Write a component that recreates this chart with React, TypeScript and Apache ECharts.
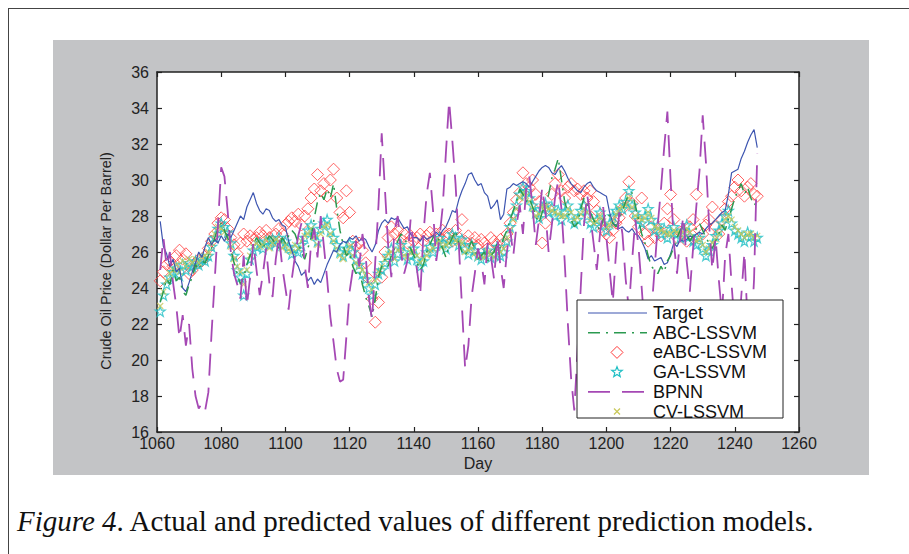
import React, { useEffect, useRef } from "react";
import * as echarts from "echarts";

const startDay = 1061;
const xTicks = { min: 1060, max: 1260, step: 20 };
const yTicks = { min: 16, max: 36, step: 2 };
const seriesNames = ["Target", "ABC-LSSVM", "eABC-LSSVM", "GA-LSSVM", "BPNN", "CV-LSSVM"];

const target = [
  27.7, 26.3, 25.9, 25.2, 25.6, 24.9, 25.1, 24.0, 23.8, 24.3,
  24.9, 25.4, 26.0, 25.7, 26.3, 26.8, 26.4, 26.7, 26.5, 26.9,
  26.6, 27.0, 26.8, 27.2, 27.6, 28.0, 27.8, 28.5, 28.9, 29.3,
  28.7, 28.3, 28.1, 28.4, 28.3, 27.9, 27.7, 27.8, 27.5, 27.4,
  26.6, 26.1, 25.5, 25.2, 24.7, 24.9, 24.4, 24.6, 24.2, 24.5,
  24.3, 24.8, 25.3, 25.7, 26.1, 26.0, 26.4, 26.6, 26.5, 26.8,
  26.7, 26.9, 26.6, 26.8, 26.7, 26.3, 26.0, 26.4, 27.2, 27.6,
  27.8, 27.6, 27.9, 27.8, 27.9, 27.6, 27.3, 27.4, 27.0, 26.8,
  26.8, 26.6, 26.9, 26.7, 26.8, 26.9, 27.1, 26.9, 27.2, 27.4,
  27.8, 28.3, 28.2, 28.9, 29.4, 29.8, 30.3, 30.4, 30.0, 29.7,
  29.8, 29.3, 29.1, 28.4, 28.6, 28.9, 27.8, 28.1, 29.5, 29.6,
  29.8, 29.7, 29.8, 29.9, 29.8, 29.6, 29.9, 30.2, 30.5, 30.7,
  30.8, 30.7, 30.4, 30.3, 30.6, 30.8, 30.5, 30.1, 29.8, 29.6,
  29.4, 29.3, 29.6, 29.8, 29.9, 29.6, 29.4, 29.3, 29.2, 29.1,
  28.2, 27.6, 27.5, 27.3, 27.4, 27.2, 27.1, 27.3, 27.0, 26.9,
  26.6, 26.2, 25.6, 25.8, 25.5, 25.6, 25.7, 25.3, 25.4, 25.9,
  26.5, 26.3, 26.7, 26.6, 26.7, 26.9, 26.8, 27.0, 27.1, 27.0,
  27.3, 27.5, 27.6, 27.8, 28.0, 28.2, 28.3, 29.2, 30.4, 30.5,
  30.6, 31.2, 31.6, 32.1, 32.5, 32.8, 31.8,
];

const abcLssvm = [
  23.2, 23.8, 24.5, 24.2, 25.0, 24.4, 24.6, 23.8, 23.6, 24.2,
  24.6, 25.3, 25.0, 25.5, 25.4, 25.8, 26.2, 26.8, 27.3, 27.6,
  27.2, 26.8, 26.2, 25.4, 24.8, 24.2, 24.6, 25.3, 25.8, 26.4,
  26.8, 26.5, 26.2, 26.6, 26.9, 26.7, 26.4, 26.2, 26.8, 26.5,
  26.9, 27.2, 27.0, 26.5, 26.0, 25.6, 26.2, 26.8, 27.9, 28.8,
  29.3, 28.9, 29.5, 29.0, 29.8, 28.4, 27.2, 26.4, 25.8, 26.0,
  25.2, 24.8, 25.0, 24.2, 23.5, 23.0, 22.4, 23.4, 24.6, 25.2,
  25.6, 25.2, 25.8, 26.2, 26.6, 27.0, 26.8, 26.4, 26.2, 25.8,
  25.4, 25.0, 25.3, 26.0, 26.4, 26.8, 27.0, 26.6, 26.2, 25.7,
  26.4, 26.8, 27.2, 26.5, 26.0, 25.8, 26.2, 26.6, 26.2, 25.6,
  25.8, 26.0, 25.5, 25.8, 26.0, 26.5, 26.2, 26.8, 27.2, 27.8,
  28.3, 28.8, 29.5, 29.2, 28.8, 29.0, 28.5, 28.0, 27.6, 28.2,
  28.6, 29.2, 30.1, 30.6, 31.2, 30.0, 28.8, 28.2, 27.8, 27.4,
  27.6, 28.4, 29.0, 28.6, 28.2, 27.8, 27.5, 27.2, 27.8, 28.2,
  28.0, 27.6, 27.4, 27.8, 28.3, 28.8, 29.2, 29.3, 28.6, 27.8,
  27.0, 26.5, 25.8, 25.2, 25.0, 24.8, 25.2, 24.9, 25.5, 25.8,
  26.3, 26.8, 27.2, 27.5, 27.0, 26.6, 26.9, 27.3, 27.6, 27.2,
  26.8, 26.5, 26.2, 26.6, 27.0, 27.5, 27.2, 27.8, 28.4, 29.0,
  29.4, 29.8, 29.2, 29.6, 29.0, 28.6, 28.8,
];

const eabcLssvm = [
  24.4, 24.9, 25.3, 25.5, 25.2, 25.8, 26.1, 25.6, 25.9, 24.8,
  25.0, 25.4, 25.6, 25.5, 25.8, 26.2, 26.6, 27.0, 27.6, 27.9,
  27.8, 27.3, 26.8, 26.4, 25.9, 26.5, 27.0, 26.6, 26.9, 26.7,
  26.8, 27.1, 26.9, 27.2, 26.8, 26.6, 27.0, 27.3, 27.0, 27.5,
  27.7, 27.9, 27.7, 28.1, 27.5, 28.0, 28.4, 29.0, 29.5, 30.3,
  29.4, 29.8, 29.1, 30.0, 30.6, 29.0, 28.2, 27.9, 29.4, 28.2,
  26.6, 26.3, 26.5, 26.1, 25.4, 24.5, 23.4, 22.1, 23.2, 24.6,
  26.0, 26.8, 27.4, 27.0, 27.2, 26.7, 27.0, 26.5, 26.9, 26.6,
  26.8, 27.0, 26.6, 26.9, 27.1, 26.7, 27.0, 26.8, 27.2, 26.9,
  27.0, 26.6, 27.2, 26.8, 27.8, 26.6, 26.9, 26.5, 26.8, 26.4,
  26.7, 26.5, 26.2, 26.8, 26.6, 26.4, 26.7, 26.5, 27.0, 27.6,
  28.2, 28.9, 29.3, 30.4, 29.8, 29.6, 30.0, 29.2, 28.8, 26.5,
  27.6, 28.4, 29.2, 29.8, 30.3, 29.4, 29.0, 29.6, 29.8, 29.4,
  29.5, 29.2, 29.4, 29.0, 29.4, 28.8, 28.3, 27.6, 27.2, 27.0,
  26.8, 27.2, 27.6, 27.9, 28.4, 29.0, 29.9, 28.7, 28.0, 27.4,
  29.0, 27.0, 26.6, 27.4, 26.8, 27.2, 26.9, 27.6, 28.4, 29.2,
  27.8, 26.8, 27.1, 27.0, 26.6, 27.4, 27.8, 29.2, 27.2, 27.0,
  27.5, 27.8, 28.5, 27.4, 27.0, 27.8, 28.4, 28.8, 29.1, 29.6,
  30.0, 29.4, 29.1, 29.6, 29.8, 29.2, 29.1,
];

const gaLssvm = [
  22.7, 23.6, 24.2, 24.6, 24.9, 25.1, 24.7, 25.3, 25.0, 25.4,
  25.2, 25.5, 25.3, 25.6, 25.5, 25.8, 26.3, 26.8, 27.3, 27.6,
  27.4, 27.1, 26.5, 25.8, 25.0, 24.6, 23.6, 24.8, 25.6, 26.1,
  26.3, 26.5, 26.2, 26.6, 26.4, 26.7, 26.5, 26.8, 26.4, 26.6,
  26.3, 25.9, 26.2, 26.0, 26.4, 26.8, 27.2, 27.5, 27.0, 26.6,
  27.3, 27.6, 27.8, 27.2, 26.8, 26.4, 26.0, 25.8, 26.2, 26.5,
  26.0, 25.6, 25.3, 24.8, 24.5, 24.0, 23.6, 24.2, 24.8, 25.0,
  25.4, 25.8, 26.2, 25.5, 25.9, 26.4, 26.0, 25.6, 25.8, 26.2,
  25.6, 25.2, 25.5, 26.0, 26.3, 26.0, 26.4, 26.8, 26.5, 26.2,
  26.6, 27.0, 26.8, 26.4, 26.7, 26.2, 25.9, 26.4, 26.1, 25.8,
  25.6, 25.9, 26.1, 25.7, 25.9, 26.3, 25.8, 26.0, 26.6, 27.4,
  28.0, 28.6, 29.2, 29.6, 29.4, 29.0, 28.6, 28.2, 27.9, 28.4,
  28.7, 28.2, 28.5, 28.0, 28.3, 27.8, 28.2, 28.6, 28.0, 27.6,
  27.8, 28.3, 28.6, 28.0, 27.6, 27.4, 27.8, 28.2, 27.5, 27.2,
  27.6, 28.0, 28.3, 28.6, 28.4, 28.8, 29.4, 28.6, 28.2, 27.8,
  27.6, 28.0, 28.4, 27.8, 27.2, 27.5, 27.0, 27.3, 26.8, 27.1,
  27.4, 27.0, 26.8, 27.2, 27.5, 26.9, 26.6, 26.4, 26.8, 26.2,
  25.8, 26.1, 26.4, 26.9, 27.2, 27.6, 28.0, 28.3, 27.6, 27.2,
  27.0, 26.8, 26.6, 27.1, 26.9, 26.6, 26.8,
];

const bpnn = [
  25.0, 26.8, 25.2, 26.0, 24.3, 23.0, 21.2, 22.5, 20.8, 22.0,
  19.5, 18.0, 17.3, 17.6, 17.2, 18.2, 21.5, 24.5, 27.5, 30.7,
  30.2, 28.3, 26.0, 24.8, 24.2, 23.4, 25.8, 23.0, 24.6, 26.5,
  25.0, 23.6, 24.8, 26.2, 24.3, 23.5, 25.6, 26.9, 25.2, 24.0,
  22.8, 24.5, 25.8, 26.9, 27.6, 25.3, 24.0, 26.5, 27.3, 25.7,
  28.0, 26.3, 24.5, 22.4, 21.0, 19.5, 18.8, 18.9, 21.3, 23.8,
  25.0, 26.6, 25.2, 27.0, 25.8, 23.5, 22.2, 25.5, 28.6, 32.6,
  29.5, 26.4, 24.6, 27.2, 28.0, 26.0, 24.8, 25.5, 27.8, 26.2,
  25.0, 23.6, 27.0, 29.2, 30.4, 28.3, 25.5, 26.8, 28.5, 31.5,
  34.4, 32.2, 29.8, 26.5, 23.0, 19.5, 20.8, 23.5, 24.8, 26.2,
  25.5, 24.2, 26.5, 25.8, 24.5, 26.8, 25.2, 24.0, 26.0, 27.3,
  25.8, 27.5, 28.6, 27.0, 29.5, 30.2, 28.5, 26.4, 27.8, 29.6,
  28.2, 26.0, 27.5, 29.0, 30.0, 28.4, 25.5, 22.0, 19.0, 17.2,
  20.5, 24.0, 27.5, 29.2, 28.0, 26.5, 25.0, 27.0, 28.5, 26.8,
  25.0, 23.2, 26.0, 28.2, 27.0, 24.5, 22.8, 25.5, 27.8, 26.3,
  24.0, 21.5, 20.2, 22.6, 25.0, 27.5, 29.5, 31.8, 33.8, 30.0,
  26.5, 24.8, 26.8, 28.0, 25.5, 23.8, 26.2, 28.5, 30.5, 33.6,
  31.0, 27.5, 25.0, 26.8, 24.5, 22.5, 25.8, 27.0, 24.2, 21.8,
  20.5, 23.5, 26.0, 22.0, 21.0, 24.5, 31.5,
];

const cvLssvm = [
  23.0, 23.8, 24.4, 24.8, 25.0, 25.3, 24.9, 25.5, 25.2, 25.6,
  25.4, 25.6, 25.4, 25.7, 25.8, 26.0, 26.5, 27.0, 27.4, 27.3,
  27.1, 26.8, 26.3, 25.6, 25.2, 24.9, 24.2, 25.0, 25.8, 26.3,
  26.5, 26.3, 26.4, 26.7, 26.2, 26.5, 26.7, 26.6, 26.2, 26.4,
  26.1, 26.0, 26.4, 26.2, 26.6, 26.9, 27.0, 27.3, 26.8, 26.4,
  27.0, 27.4, 27.5, 27.0, 26.6, 26.2, 25.8, 25.6, 26.0, 26.3,
  25.8, 25.4, 25.2, 25.0, 24.7, 24.3, 23.9, 24.4, 24.9, 25.2,
  25.6, 25.9, 26.0, 25.6, 26.1, 26.2, 25.8, 25.7, 26.0, 26.0,
  25.8, 25.4, 25.6, 25.8, 26.1, 26.2, 26.5, 26.6, 26.3, 26.4,
  26.5, 26.8, 26.6, 26.5, 26.5, 26.0, 26.1, 26.2, 25.9, 25.7,
  25.8, 25.7, 26.0, 25.9, 25.7, 26.1, 26.0, 26.2, 26.8, 27.2,
  27.8, 28.4, 29.0, 29.3, 29.1, 28.8, 28.4, 28.0, 28.1, 28.5,
  28.5, 28.4, 28.3, 28.2, 28.1, 28.0, 28.0, 28.4, 28.2, 27.8,
  27.9, 28.1, 28.4, 28.2, 27.8, 27.6, 27.7, 28.0, 27.7, 27.4,
  27.5, 27.8, 28.1, 28.4, 28.5, 28.6, 29.0, 28.5, 28.0, 27.9,
  27.8, 27.9, 28.2, 27.9, 27.4, 27.3, 27.2, 27.1, 27.0, 27.0,
  27.2, 27.1, 27.0, 27.1, 27.3, 27.1, 26.8, 26.6, 26.7, 26.4,
  26.0, 26.2, 26.5, 26.7, 27.0, 27.4, 27.8, 28.0, 27.8, 27.4,
  27.2, 27.0, 26.8, 27.0, 27.0, 26.8, 26.9,
];

const yAxisTitle = "Crude Oil Price (Dollar Per Barrel)";
const xAxisTitle = "Day";
const captionItalic = "Figure 4";
const captionRest = ". Actual and predicted values of different prediction models.";

const C_TARGET = "#3d55b0";
const C_ABC = "#2b9a50";
const C_EABC = "#ff3a3a";
const C_GA = "#1fbfc4";
const C_BPNN = "#a548b4";
const C_CV = "#c9c85a";
const DASH_ABC = [12, 6, 2, 6];
const DASH_BPNN = [22, 12];

const STAR =
  "path://M50,0L61.2,34.5L97.6,34.5L68.2,55.9L79.4,90.5L50,69.1L20.6,90.5L31.8,55.9L2.4,34.5L38.8,34.5Z";
const CROSS = "path://M0,0L10,10M10,0L0,10";

const SANS = "'Liberation Sans', Arial, Helvetica, sans-serif";
const SERIF = "'Liberation Serif', 'Times New Roman', serif";

function pts(vals: number[]) {
  return vals.map((v, i) => [startDay + i, v]);
}

function starPoints(cx: number, cy: number, R: number, r: number) {
  const p: number[][] = [];
  for (let k = 0; k < 10; k++) {
    const a = -Math.PI / 2 + (k * Math.PI) / 5;
    const rad = k % 2 === 0 ? R : r;
    p.push([cx + rad * Math.cos(a), cy + rad * Math.sin(a)]);
  }
  return p;
}

function buildLegend() {
  const bx = 577, by = 300, bw = 206, bh = 118;
  const x0 = 588, x1 = 647, sx = 617, tx = 653;
  const rowY = (i: number) => 313 + i * 19.7;
  const els: any[] = [
    { type: "rect", z: 100, shape: { x: bx, y: by, width: bw, height: bh }, style: { fill: "#fff", stroke: "#222", lineWidth: 1 } },
  ];
  els.push({ type: "line", z: 101, shape: { x1: x0, y1: rowY(0), x2: x1, y2: rowY(0) }, style: { stroke: C_TARGET, lineWidth: 1.2 } });
  els.push({ type: "line", z: 101, shape: { x1: x0, y1: rowY(1), x2: x1, y2: rowY(1) }, style: { stroke: C_ABC, lineWidth: 1.5, lineDash: DASH_ABC } });
  const y2 = rowY(2);
  els.push({ type: "polygon", z: 101, shape: { points: [[sx, y2 - 6], [sx + 6, y2], [sx, y2 + 6], [sx - 6, y2]] }, style: { fill: "none", stroke: C_EABC, lineWidth: 1 } });
  els.push({ type: "polygon", z: 101, shape: { points: starPoints(sx, rowY(3), 5.5, 2.3) }, style: { fill: "none", stroke: C_GA, lineWidth: 1.2 } });
  els.push({ type: "line", z: 101, shape: { x1: x0, y1: rowY(4), x2: x1, y2: rowY(4) }, style: { stroke: C_BPNN, lineWidth: 1.8, lineDash: DASH_BPNN } });
  const y5 = rowY(5);
  els.push({ type: "line", z: 101, shape: { x1: sx - 3, y1: y5 - 3, x2: sx + 3, y2: y5 + 3 }, style: { stroke: C_CV, lineWidth: 1.2 } });
  els.push({ type: "line", z: 101, shape: { x1: sx + 3, y1: y5 - 3, x2: sx - 3, y2: y5 + 3 }, style: { stroke: C_CV, lineWidth: 1.2 } });
  seriesNames.forEach((n, i) => {
    els.push({
      type: "text",
      z: 102,
      x: tx,
      y: rowY(i),
      style: { text: n, fill: "#111", font: `18px ${SANS}`, verticalAlign: "middle", align: "left" },
    });
  });
  return els;
}

export default function App() {
  const ref = useRef<HTMLDivElement>(null);

  useEffect(() => {
    if (!ref.current) return;
    const chart = echarts.init(ref.current, undefined, { renderer: "svg" });
    const axisLine = { show: true, lineStyle: { color: "#222", width: 1.5 } };
    const tick = { show: true, inside: true, length: 5, lineStyle: { color: "#222", width: 1.2 } };
    const xBase = {
      type: "value" as const,
      min: xTicks.min,
      max: xTicks.max,
      interval: xTicks.step,
      splitLine: { show: false },
      axisLine,
      axisTick: tick,
    };
    const yBase = {
      type: "value" as const,
      min: yTicks.min,
      max: yTicks.max,
      interval: yTicks.step,
      splitLine: { show: false },
      axisLine,
      axisTick: tick,
    };
    const option: any = {
      animation: false,
      backgroundColor: "transparent",
      grid: {
        left: 157,
        top: 72,
        width: 642,
        height: 360,
        show: true,
        backgroundColor: "#ffffff",
        borderWidth: 0,
        containLabel: false,
      },
      xAxis: [
        {
          ...xBase,
          position: "bottom",
          axisLabel: {
            color: "#222",
            fontSize: 16,
            fontFamily: SANS,
            margin: 3,
            formatter: (v: number) => String(v),
          },
          name: xAxisTitle,
          nameLocation: "middle",
          nameGap: 22,
          nameTextStyle: { color: "#222", fontSize: 16, fontFamily: SANS },
        },
        { ...xBase, position: "top", axisLabel: { show: false } },
      ],
      yAxis: [
        {
          ...yBase,
          position: "left",
          axisLabel: { color: "#222", fontSize: 16, fontFamily: SANS, margin: 8, formatter: (v: number) => String(v) },
        },
        { ...yBase, position: "right", axisLabel: { show: false } },
      ],
      legend: { show: false },
      tooltip: { show: false },
      graphic: [
        {
          type: "text",
          x: 106,
          y: 261,
          rotation: Math.PI / 2,
          style: {
            text: yAxisTitle,
            fill: "#222",
            font: `14.4px ${SANS}`,
            align: "center",
            verticalAlign: "middle",
          },
        },
        {
          type: "text",
          x: 17,
          y: 521,
          style: {
            text: `{i|${captionItalic}}{n|${captionRest}}`,
            verticalAlign: "middle",
            rich: {
              i: { fontStyle: "italic", fontSize: 29, fontFamily: SERIF, fill: "#111" },
              n: { fontSize: 29, fontFamily: SERIF, fill: "#111" },
            },
          },
        },
        ...buildLegend(),
      ],
      series: [
        {
          name: seriesNames[0],
          type: "line",
          data: pts(target),
          symbol: "none",
          lineStyle: { color: C_TARGET, width: 1.2 },
          itemStyle: { color: C_TARGET },
        },
        {
          name: seriesNames[1],
          type: "line",
          data: pts(abcLssvm),
          symbol: "none",
          lineStyle: { color: C_ABC, width: 1.5, type: DASH_ABC },
          itemStyle: { color: C_ABC },
        },
        {
          name: seriesNames[2],
          type: "scatter",
          data: pts(eabcLssvm),
          symbol: "diamond",
          symbolSize: 12,
          itemStyle: { color: "rgba(0,0,0,0)", borderColor: C_EABC, borderWidth: 1 },
        },
        {
          name: seriesNames[3],
          type: "scatter",
          data: pts(gaLssvm),
          symbol: STAR,
          symbolSize: 10,
          itemStyle: { color: "rgba(0,0,0,0)", borderColor: C_GA, borderWidth: 1.2 },
        },
        {
          name: seriesNames[4],
          type: "line",
          data: pts(bpnn),
          symbol: "none",
          lineStyle: { color: C_BPNN, width: 1.8, type: DASH_BPNN },
          itemStyle: { color: C_BPNN },
        },
        {
          name: seriesNames[5],
          type: "scatter",
          data: pts(cvLssvm),
          symbol: CROSS,
          symbolSize: 6,
          itemStyle: { color: "rgba(0,0,0,0)", borderColor: C_CV, borderWidth: 1.2 },
        },
      ],
    };
    chart.setOption(option);
    return () => chart.dispose();
  }, []);

  return (
    <div style={{ position: "fixed", left: 0, top: 0, width: 909, height: 554, background: "#ffffff", overflow: "hidden" }}>
      <div style={{ position: "absolute", left: 8, top: 8, width: 901, height: 0, borderTop: "1.5px solid #444" }} />
      <div style={{ position: "absolute", left: 8, top: 8, width: 0, height: 546, borderLeft: "1.5px solid #444" }} />
      <div style={{ position: "absolute", left: 53, top: 40, width: 816, height: 435, background: "#c3c4c6" }} />
      <div ref={ref} style={{ position: "absolute", left: 0, top: 0, width: 909, height: 554 }} />
    </div>
  );
}
